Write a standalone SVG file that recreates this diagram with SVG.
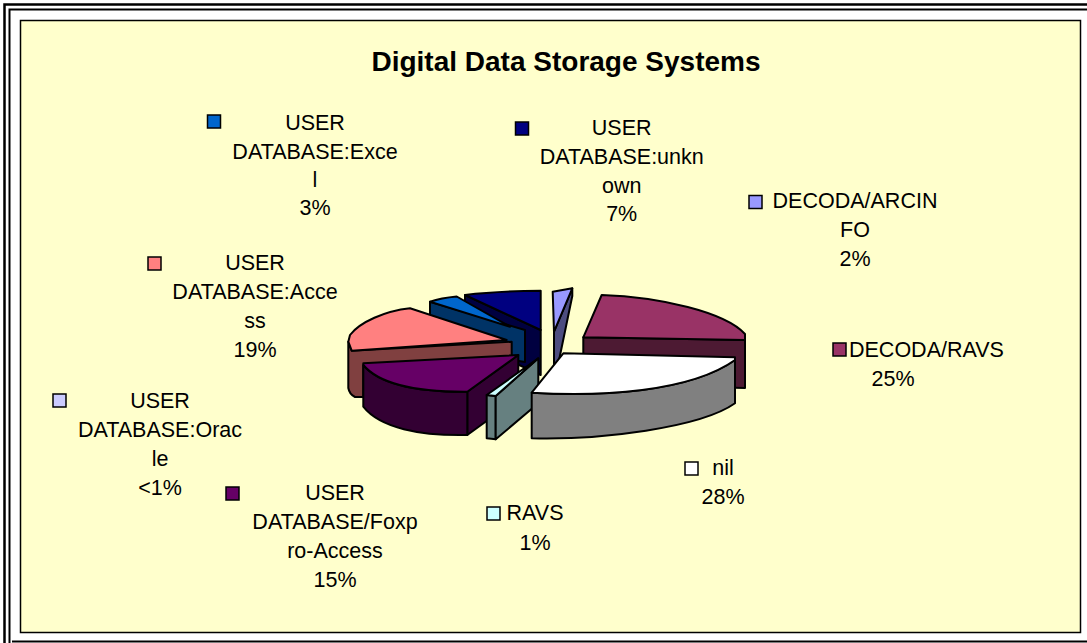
<svg xmlns="http://www.w3.org/2000/svg" width="1087" height="643" viewBox="0 0 1087 643">
<style>
.lbl{font-family:"Liberation Sans",Arial,sans-serif;font-size:21.5px;fill:#000;text-anchor:middle}
.ttl{font-family:"Liberation Sans",Arial,sans-serif;font-size:28px;font-weight:bold;fill:#000;text-anchor:middle}
.mk{stroke:#000;stroke-width:1.5}
.s{stroke:#000;stroke-width:2;stroke-linejoin:round}
</style>
<rect x="0" y="0" width="1087" height="643" fill="#fff"/>
<g id="frame" fill="none" stroke="#000">
<path d="M4.5,643 V4.5 H1087" stroke-width="2.5"/>
<path d="M9.5,643 V9.5 H1087" stroke-width="2"/>
<path d="M12,641.5 H1087" stroke-width="2"/>
</g>
<rect id="chartarea" x="20.5" y="20.5" width="1060" height="612" fill="#FFFFCC" stroke="#000" stroke-width="1.5"/>
<text id="title" class="ttl" x="566" y="71">Digital Data Storage Systems</text>
<g id="pie">
<g id="slice-arcinfo">
<path class="s" fill="#4D4D80" d="M554,331.7 L572.3,288.3 L572.3,296 L557,370 L554,370 Z"/>
<path class="s" fill="#9999FF" d="M552.7,291.7 L572.3,288.3 L554,331.7 Z"/>
</g>
<g id="slice-unknown">
<path class="s" fill="#000040" d="M465,295 L540.7,330 L540.7,375 L465,340 Z"/>
<path class="s" fill="#000080" d="M465,295 C490,292 515,291 540.7,290.7 L540.7,330 Z"/>
</g>
<g id="slice-excel">
<path class="s" fill="#003366" d="M430,301.7 L525,330 L525,362 L430,346.7 Z"/>
<path class="s" fill="#0066CC" d="M430,301.7 C438,299 446,297.5 456.7,296.5 L510,326.7 Z"/>
</g>
<g id="slice-decoda-ravs">
<path class="s" fill="#4D1A33" d="M583.3,337.3 L745,340 L745,388 L583.3,384 Z"/>
<path class="s" fill="#993366" d="M583.3,337.3 L601.7,295 C660,297 725,312 745,334 L745,340 Z"/>
</g>
<g id="slice-access">
<path class="s" fill="#804040" d="M348.3,341.7 L351.7,350.7 L511.7,341.7 L511.7,360 L363.3,366 L363.3,397 L355,397 C351,395 349,392 348.3,388 Z"/>
<path class="s" fill="#FF8080" d="M351.7,350.7 L506.7,340 L410,308.3 C385,311 360,322 350,335 L348.3,341.7 Z"/>
</g>
<g id="slice-foxpro">
<path class="s" fill="#330033" d="M467.3,391.7 L518.3,355 L518.3,398 L467.3,435 Z"/>
<path class="s" fill="#330033" d="M363.3,365 C380,385 420,392 467.3,391.7 L467.3,435 C420,436 380,428 363.3,406.7 Z"/>
<path class="s" fill="#660066" d="M363.3,363.3 L518.3,355 L467.3,391.7 C420,392 380,385 363.3,365 Z"/>
</g>
<g id="slice-ravs">
<path class="s" fill="#668080" d="M486.7,395 L495.7,396 L495.7,439.3 L486.7,438.3 Z"/>
<path class="s" fill="#668080" d="M495.7,396 L538.3,358.3 L538.3,403.3 L495.7,439.3 Z"/>
<path class="s" fill="#CCFFFF" d="M538.3,358.3 L486.7,395 L495.7,396 Z"/>
</g>
<g id="slice-nil">
<path class="s" fill="#808080" d="M531.7,392.7 C600,397 690,392 735,360 L735,403.3 C700,428 600,440 531.7,438.3 Z"/>
<path class="s" fill="#FFFFFF" d="M563.3,353.3 L735,357.3 L735,360 C690,392 600,397 531.7,392.7 Z"/>
</g>
</g>
<g id="legend-excel">
<rect class="mk" x="207.5" y="115" width="13" height="13" fill="#0066CC"/>
<text class="lbl" x="315" y="130">USER</text>
<text class="lbl" x="315" y="159">DATABASE:Exce</text>
<text class="lbl" x="315" y="187">l</text>
<text class="lbl" x="315" y="215">3%</text>
</g>
<g id="legend-unknown">
<rect class="mk" x="515.5" y="122" width="13" height="13" fill="#000080"/>
<text class="lbl" x="621.7" y="135">USER</text>
<text class="lbl" x="621.7" y="164">DATABASE:unkn</text>
<text class="lbl" x="621.7" y="192.5">own</text>
<text class="lbl" x="621.7" y="221">7%</text>
</g>
<g id="legend-arcinfo">
<rect class="mk" x="749" y="195.5" width="13" height="13" fill="#9999FF"/>
<text class="lbl" x="855" y="208">DECODA/ARCIN</text>
<text class="lbl" x="855" y="237">FO</text>
<text class="lbl" x="855" y="266">2%</text>
</g>
<g id="legend-decoda-ravs">
<rect class="mk" x="833" y="343" width="13" height="13" fill="#993366"/>
<text class="lbl" x="849" y="357" style="text-anchor:start">DECODA/RAVS</text>
<text class="lbl" x="893" y="386">25%</text>
</g>
<g id="legend-nil">
<rect class="mk" x="685" y="462" width="13" height="13" fill="#FFFFFF"/>
<text class="lbl" x="723" y="475">nil</text>
<text class="lbl" x="723" y="504">28%</text>
</g>
<g id="legend-ravs">
<rect class="mk" x="487" y="507" width="13" height="13" fill="#CCFFFF"/>
<text class="lbl" x="535" y="520">RAVS</text>
<text class="lbl" x="535" y="550">1%</text>
</g>
<g id="legend-foxpro">
<rect class="mk" x="226" y="487" width="13" height="13" fill="#660066"/>
<text class="lbl" x="335" y="500">USER</text>
<text class="lbl" x="335" y="529">DATABASE/Foxp</text>
<text class="lbl" x="335" y="558">ro-Access</text>
<text class="lbl" x="335" y="587">15%</text>
</g>
<g id="legend-oracle">
<rect class="mk" x="53" y="394" width="13" height="13" fill="#CCCCFF"/>
<text class="lbl" x="160" y="408">USER</text>
<text class="lbl" x="160" y="437">DATABASE:Orac</text>
<text class="lbl" x="160" y="466">le</text>
<text class="lbl" x="160" y="495">&lt;1%</text>
</g>
<g id="legend-access">
<rect class="mk" x="148" y="257" width="13" height="13" fill="#FF8080"/>
<text class="lbl" x="255" y="270">USER</text>
<text class="lbl" x="255" y="299">DATABASE:Acce</text>
<text class="lbl" x="255" y="328">ss</text>
<text class="lbl" x="255" y="357">19%</text>
</g>
</svg>
